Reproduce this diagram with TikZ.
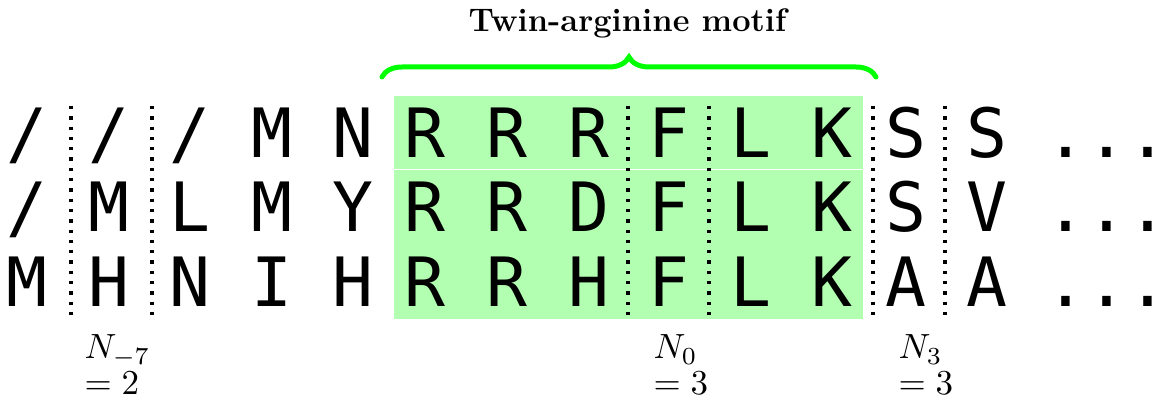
\documentclass[tikz,border=0pt]{standalone}
\usepackage{fontspec}
\newfontfamily\seqfont{DejaVu Sans Mono}
\usetikzlibrary{decorations.pathreplacing}
\begin{document}
\begin{tikzpicture}[x=1pt,y=1pt,
  seq/.style={font=\seqfont\fontsize{68}{68}\selectfont, inner sep=0pt, anchor=base},
  sepline/.style={line width=3.3pt, dash pattern=on 3.3pt off 7pt},
  lab/.style={inner sep=0pt, anchor=base west, scale=3.5},
  bracestyle/.style={draw=green, line width=5pt, line cap=round, decorate, decoration={brace, amplitude=20pt}}]
\useasboundingbox (0,0) rectangle (1159,401);
% motif background
\fill[green!30] (394,82) rectangle (863,305);
\draw[white, line width=1pt] (394,231) -- (863,231);
% separators
\foreach \x in {71,152,628,709,873,945} \draw[sepline] (\x,295) -- (\x,80);
% row 1
\node[seq] (a1) at (27,243) {/};
\node[seq] (a2) at (109,243) {/};
\node[seq] (a3) at (190,243) {/};
\node[seq] (a4) at (272,243) {M};
\node[seq] (a5) at (353,243) {N};
\node[seq] (a6) at (425,243) {R};
\node[seq] (a7) at (507,243) {R};
\node[seq] (a8) at (589,243) {R};
\node[seq] (a9) at (669,243) {F};
\node[seq] (a10) at (751,243) {L};
\node[seq] (a11) at (832,243) {K};
\node[seq] (a12) at (906,243) {S};
\node[seq] (a13) at (987,243) {S};
\node[seq] (a14) at (1107,243) {...};
% row 2
\node[seq] (b1) at (27,169) {/};
\node[seq] (b2) at (109,169) {M};
\node[seq] (b3) at (190,169) {L};
\node[seq] (b4) at (272,169) {M};
\node[seq] (b5) at (353,169) {Y};
\node[seq] (b6) at (425,169) {R};
\node[seq] (b7) at (507,169) {R};
\node[seq] (b8) at (589,169) {D};
\node[seq] (b9) at (669,169) {F};
\node[seq] (b10) at (751,169) {L};
\node[seq] (b11) at (832,169) {K};
\node[seq] (b12) at (906,169) {S};
\node[seq] (b13) at (987,169) {V};
\node[seq] (b14) at (1107,169) {...};
% row 3
\node[seq] (c1) at (27,94) {M};
\node[seq] (c2) at (109,94) {H};
\node[seq] (c3) at (190,94) {N};
\node[seq] (c4) at (272,94) {I};
\node[seq] (c5) at (353,94) {H};
\node[seq] (c6) at (425,94) {R};
\node[seq] (c7) at (507,94) {R};
\node[seq] (c8) at (589,94) {H};
\node[seq] (c9) at (669,94) {F};
\node[seq] (c10) at (751,94) {L};
\node[seq] (c11) at (832,94) {K};
\node[seq] (c12) at (906,94) {A};
\node[seq] (c13) at (987,94) {A};
\node[seq] (c14) at (1107,94) {...};
% brace and title
\coordinate (bl) at (382,324);
\coordinate (br) at (876,324);
\draw[bracestyle] (bl) -- (br);
\node[font=\bfseries\fontsize{32.6}{33}\selectfont, anchor=base, inner sep=0pt] (title) at (627.5,369) {Twin-arginine motif};
% labels
\node[lab] (l1) at (84,42) {$N_{-7}$};
\node[lab] (l1v) at (84,6) {$=2$};
\node[lab] (l2) at (653,42) {$N_0$};
\node[lab] (l2v) at (653,6) {$=3$};
\node[lab] (l3) at (898,42) {$N_3$};
\node[lab] (l3v) at (898,6) {$=3$};
\end{tikzpicture}
\end{document}
